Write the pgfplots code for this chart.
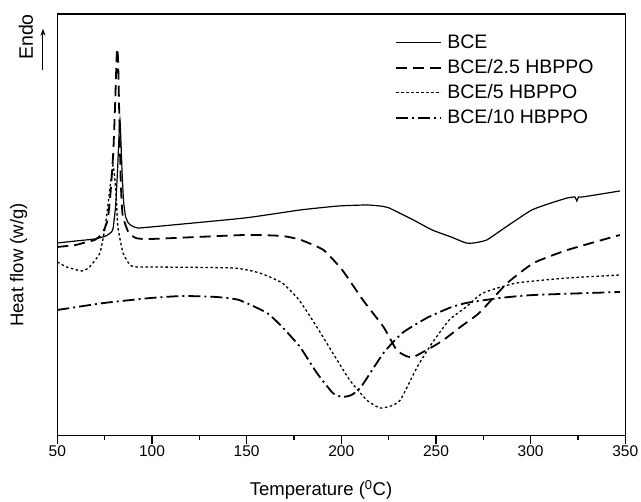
\documentclass[border=0pt]{standalone}
\usepackage{fontspec}
\setmainfont{Liberation Sans}
\usepackage{pgfplots}
\pgfplotsset{compat=1.18}
\usetikzlibrary{arrows.meta}
\begin{document}
\begin{tikzpicture}
\begin{axis}[
  name=ax,
  scale only axis,
  width=568pt, height=421.7pt,
  xmin=50, xmax=350, ymin=5.3, ymax=427,
  axis line style={line width=1.1pt},
  xtick={50,100,...,350},
  minor x tick num=1,
  ytick=\empty,
  xtick pos=bottom,
  tick align=outside,
  major tick length=8pt, minor tick length=4pt,
  every tick/.style={line width=1.1pt, black},
  /pgf/number format/assume math mode=true,
  xticklabel style={font=\fontsize{15.5}{18}\selectfont, inner sep=2pt},
  legend style={draw=none, fill=none, at={(0.595,0.957)}, anchor=north west,
    font=\fontsize{19.5}{22}\selectfont, row sep=4pt, inner sep=0pt,
    nodes={text height=15pt, text depth=4pt, inner sep=1pt}},
  legend cell align=left,
  legend image code/.code={\draw[#1] (0pt,0pt) -- (45pt,0pt); \path (49pt,0pt);},
]
\addplot[black, line width=1.2pt, smooth, tension=0.3] coordinates {
(50,198) (59.75,200) (69.7,202) (75.6,205) (78.6,209) (79.5,213) (80.8,235) (81.8,270) (82.6,305) (83.1,321) (83.6,300) (84.3,265) (85.0,240) (86.0,225) (87.5,218) (89.5,215) (92.45,213) (99.4,214) (148.9,223) (178.2,231) (198.5,235) (213.4,236) (220.3,235) (225.3,233) (238.1,221) (248,211) (258,204) (265.9,198) (269.8,198) (276.8,201) (287.7,215) (300.6,231) (312.4,239) (319.4,243) (323.4,244) (324.4,240) (325.3,244) (327.3,244) (347.1,250)
};
\addlegendentry{BCE}
\addplot[black, line width=1.8pt, dash pattern=on 11pt off 6pt, smooth, tension=0.3] coordinates {
(50,194) (59.75,196) (63.6,198) (69.7,201) (73.6,207) (76.6,221) (78.2,250) (79.6,290) (80.6,340) (81.5,392) (82.1,381) (82.8,320) (83.5,260) (84.5,226) (87.5,209) (91.5,203) (99.4,202) (148.9,206) (168.8,205) (178.7,201) (190.6,191) (200.5,171) (211.4,141) (222.3,114) (229.2,91) (234.2,85) (238.1,84) (248,94) (254,101) (262.9,114) (272.8,128) (287.7,158) (301.6,178) (319.4,191) (347.1,206)
};
\addlegendentry{BCE/2.5 HBPPO}
\addplot[black, line width=1.3pt, dash pattern=on 2.5pt off 2.5pt, smooth, tension=0.3] coordinates {
(50,179) (55,174) (63,170) (67,174) (72.5,188) (75.3,214) (77,240) (78.4,262) (79.4,276) (80.4,262) (81.3,238) (82,214) (84.7,188) (88.4,176) (92,174) (99.4,174) (143,173) (156.9,168) (168.8,158) (177.7,141) (187.1,114) (195.5,88) (204.4,61) (213.4,41) (220.3,33) (226.2,35) (231.2,41) (240.1,74) (248,98) (257,121) (265.9,134) (274.8,148) (292.6,158) (319.4,163) (347.1,166)
};
\addlegendentry{BCE/5 HBPPO}
\addplot[black, line width=1.8pt, dash pattern=on 12pt off 4pt on 2pt off 4pt, smooth, tension=0.3] coordinates {
(50,131) (74.6,138) (99.4,143) (116.2,145) (134.1,144) (146,141) (160.8,128) (168.8,114) (178.2,94) (187.1,68) (195.5,48) (200.5,44) (205.4,46) (210.4,54) (222.3,88) (232.2,108) (245.1,123) (257,133) (265.9,138) (283.7,143) (301.6,146) (347.1,149)
};
\addlegendentry{BCE/10 HBPPO}
\end{axis}
\node[rotate=90, font=\fontsize{19.5}{22}\selectfont] at ([shift={(-31.3pt,398.7pt)}]ax.south west) {Endo};
\draw[line width=1pt, -{Stealth[length=7pt,width=5pt]}] ([shift={(-14.3pt,365.7pt)}]ax.south west) -- ([shift={(-14.3pt,407pt)}]ax.south west);
\node[rotate=90, font=\fontsize{18.5}{22}\selectfont] at ([shift={(-38.8pt,170.7pt)}]ax.south west) {Heat flow (w/g)};
\node[font=\fontsize{18.5}{22}\selectfont] at ([shift={(263.7pt,-54.3pt)}]ax.south west) {Temperature (\textsuperscript{0}C)};
\pgfresetboundingbox
\path[use as bounding box] ([shift={(-57.3pt,-66.3pt)}]ax.south west) rectangle ++(641pt,502pt);
\end{tikzpicture}
\end{document}
